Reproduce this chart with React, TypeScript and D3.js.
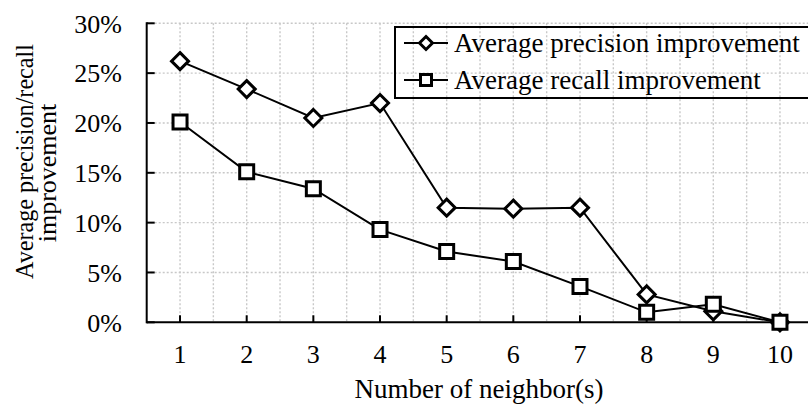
import React from "react";
import * as d3 from "d3";

const neighbors = [1, 2, 3, 4, 5, 6, 7, 8, 9, 10];
const precisionImprovement = [26.2, 23.4, 20.5, 22.0, 11.5, 11.4, 11.5, 2.8, 1.1, 0];
const recallImprovement = [20.1, 15.1, 13.4, 9.3, 7.1, 6.1, 3.6, 1.0, 1.8, 0];
const yTicks = [0, 5, 10, 15, 20, 25, 30];
const seriesNames = ["Average precision improvement", "Average recall improvement"];

const W = 808;
const H = 405;
const FONT = "'Liberation Serif', 'Times New Roman', serif";

export default function App() {
  const x = d3.scaleLinear().domain([0.5, 10.5]).range([146.7, 813.3]);
  const y = d3.scaleLinear().domain([0, 30]).range([322.3, 23.3]);

  const halfSteps = d3.range(1, 10.51, 0.5);

  const line = d3
    .line<number>()
    .x((_, i) => x(neighbors[i]))
    .y((d) => y(d));

  const diamond = (cx: number, cy: number, r: number) =>
    `M${cx},${cy - r}L${cx + r},${cy}L${cx},${cy + r}L${cx - r},${cy}Z`;

  const square = (cx: number, cy: number, s: number) =>
    `M${cx - s / 2},${cy - s / 2}h${s}v${s}h${-s}Z`;

  const legendX0 = 404;
  const legendX1 = 448;
  const legendRows = [43, 80];

  return (
    <svg
      width={W}
      height={H}
      style={{ position: "absolute", left: 0, top: 0, background: "#fff" }}
      fontFamily={FONT}
    >
      {/* grid */}
      <g stroke="#c8c8c8" strokeWidth={1.4} strokeDasharray="2,2" fill="none">
        {halfSteps.map((v) => (
          <line key={"gx" + v} x1={x(v)} x2={x(v)} y1={y(30)} y2={y(0)} />
        ))}
        {yTicks.slice(1).map((v) => (
          <line key={"gy" + v} x1={x(0.5)} x2={W} y1={y(v)} y2={y(v)} />
        ))}
      </g>

      {/* axes */}
      <g stroke="#000" strokeWidth={2} fill="none">
        <line x1={x(0.5)} x2={x(0.5)} y1={y(30) - 1} y2={y(0) + 1} />
        <line x1={x(0.5)} x2={W} y1={y(0)} y2={y(0)} />
        {yTicks.map((v) => (
          <line key={"ty" + v} x1={x(0.5)} x2={x(0.5) + 8} y1={y(v)} y2={y(v)} />
        ))}
        {neighbors.map((v) => (
          <line key={"tx" + v} x1={x(v)} x2={x(v)} y1={y(0)} y2={y(0) - 7} />
        ))}
      </g>

      {/* tick labels */}
      <g fontSize={26} fill="#000">
        {yTicks.map((v) => (
          <text key={"ly" + v} x={122} y={y(v) + 9.2} textAnchor="end">
            {v}%
          </text>
        ))}
        {neighbors.map((v) => (
          <text key={"lx" + v} x={x(v)} y={362.5} textAnchor="middle">
            {v}
          </text>
        ))}
      </g>

      {/* axis titles */}
      <text x={479} y={398} fontSize={27} textAnchor="middle">
        Number of neighbor(s)
      </text>
      <g fontSize={26} textAnchor="middle">
        <text
          transform="translate(33,161.5) rotate(-90)"
          textLength={235}
          lengthAdjust="spacingAndGlyphs"
        >
          Average precision/recall
        </text>
        <text transform="translate(55.5,173) rotate(-90)">improvement</text>
      </g>

      {/* series lines */}
      <g fill="none" stroke="#000" strokeWidth={2}>
        <path d={line(precisionImprovement) ?? ""} />
        <path d={line(recallImprovement) ?? ""} />
      </g>

      {/* markers */}
      <g fill="#fff" stroke="#000" strokeWidth={3}>
        {precisionImprovement.map((v, i) => (
          <path key={"dp" + i} d={diamond(x(neighbors[i]), y(v), 8.5)} />
        ))}
        {recallImprovement.map((v, i) => (
          <path key={"sr" + i} d={square(x(neighbors[i]), y(v), 14)} />
        ))}
      </g>

      {/* legend */}
      <rect x={395} y={27} width={W} height={71} fill="none" stroke="#000" strokeWidth={2} />
      {legendRows.map((ly, i) => (
        <g key={"lg" + i}>
          <line x1={legendX0} x2={legendX1} y1={ly} y2={ly} stroke="#000" strokeWidth={2} />
          <path
            d={
              i === 0
                ? diamond((legendX0 + legendX1) / 2, ly, 6.5)
                : square((legendX0 + legendX1) / 2, ly, 11)
            }
            fill="#fff"
            stroke="#000"
            strokeWidth={3}
          />
          <text x={454} y={ly + 8.7} fontSize={27}>
            {seriesNames[i]}
          </text>
        </g>
      ))}
    </svg>
  );
}
